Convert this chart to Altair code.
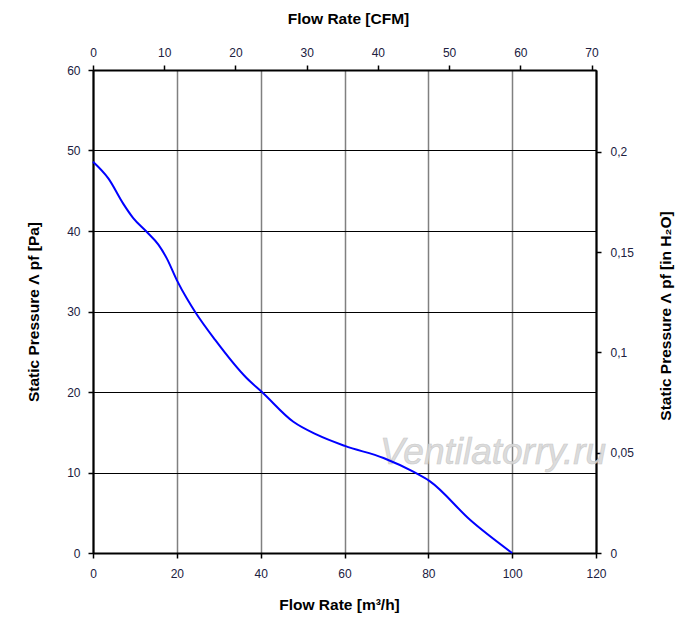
import altair as alt
import pandas as pd

# Fan curve
flow_m3h = [0, 3.7, 7.2, 9.6, 12.8, 15.6, 17.6, 20, 22.4, 24.3, 29.1, 36.7,
            40.3, 47.8, 53.4, 60.1, 69.3, 76.4, 80.4, 90, 100]
pressure_pa = [48.6, 46.5, 43.4, 41.6, 39.9, 38.3, 36.6, 33.9, 31.6, 30.0, 26.5,
               21.7, 20.0, 16.3, 14.7, 13.3, 11.8, 10.1, 8.9, 4.1, 0]

x_ticks = [0, 20, 40, 60, 80, 100, 120]
y_ticks = [0, 10, 20, 30, 40, 50, 60]
cfm_ticks = [0, 10, 20, 30, 40, 50, 60, 70]
inh2o_ticks = [0, 0.05, 0.1, 0.15, 0.2]

M3H_PER_CFM = 1.699
PA_PER_INH2O = 249.09
X_MAX, Y_MAX = 120, 60

df = pd.DataFrame({"flow": flow_m3h, "pressure": pressure_pa})

W, H = 503, 483
FONT = "Liberation Sans"
LABEL_COLOR = "#202040"

common_axis = dict(
    labelFont=FONT, labelFontSize=12, labelColor=LABEL_COLOR, labelFlush=False,
    labelOverlap=False,
    titleFont=FONT, titleFontSize=15.5, titleFontWeight="bold", titleColor="black",
    domainColor="black", domainWidth=2,
    tickColor="black", tickWidth=1.5, tickSize=5,
)

base = alt.Chart(df)

line = base.mark_line(color="#0000ff", strokeWidth=2, interpolate="monotone").encode(
    x=alt.X("flow:Q",
            scale=alt.Scale(domain=[0, X_MAX], nice=False, zero=True),
            axis=alt.Axis(values=x_ticks, grid=True,
                          gridColor={"condition": {"test": "datum.value <= 0 || datum.value >= 120",
                                                   "value": "black"}, "value": "#808080"},
                          gridWidth=1.5,
                          title="Flow Rate [m³/h]", titleX=246, titleY=51,
                          titleAlign="center", titleBaseline="middle",
                          labelPadding=10, **common_axis)),
    y=alt.Y("pressure:Q",
            scale=alt.Scale(domain=[0, Y_MAX], nice=False, zero=True),
            axis=alt.Axis(values=y_ticks, grid=True, gridColor="black", gridWidth=1.2,
                          title="Static Pressure Λ pf [Pa]", titleX=-60, titleY=H / 2,
                          titleAngle=-90, titleAlign="center", titleBaseline="middle",
                          labelPadding=8, **common_axis)),
)

secondary = base.transform_calculate(
    cfm=f"datum.flow / {M3H_PER_CFM}",
    inh2o=f"datum.pressure / {PA_PER_INH2O}",
).mark_line(opacity=0).encode(
    x=alt.X("cfm:Q",
            scale=alt.Scale(domain=[0, X_MAX / M3H_PER_CFM], nice=False, zero=True),
            axis=alt.Axis(orient="top", values=cfm_ticks, grid=False,
                          title="Flow Rate [CFM]", titleX=255, titleY=-52,
                          titleAlign="center", titleBaseline="middle",
                          labelPadding=6, **common_axis)),
    y=alt.Y("inh2o:Q",
            scale=alt.Scale(domain=[0, Y_MAX / PA_PER_INH2O], nice=False, zero=True),
            axis=alt.Axis(orient="right", values=inh2o_ticks, grid=False,
                          labelExpr="replace(format(datum.value, '~g'), '.', ',')",
                          title="Static Pressure Λ pf [in H₂O]", titleX=69, titleY=H / 2 + 4,
                          titleAngle=-90, titleAlign="center", titleBaseline="middle",
                          labelPadding=9, **common_axis)),
)

watermark = alt.Chart(pd.DataFrame({"t": ["Ventilatorry.ru"]})).mark_text(
    font=FONT, fontSize=37, fontStyle="italic", align="left", baseline="alphabetic",
    color="#d9d9d9", stroke="#c4c4c4", strokeWidth=0.6, opacity=0.9,
).encode(text="t:N", x=alt.value(287), y=alt.value(394))

chart = alt.layer(watermark, secondary, line).resolve_scale(
    x="independent", y="independent"
).properties(
    width=W, height=H,
    autosize=alt.AutoSizeParams(type="none"),
    padding={"left": 85, "top": 62, "right": 90, "bottom": 64},
).configure_view(stroke="black", strokeWidth=2, fill="white").configure(background="white")

chart.save("out.html", embed_options={"renderer": "svg", "actions": False})
